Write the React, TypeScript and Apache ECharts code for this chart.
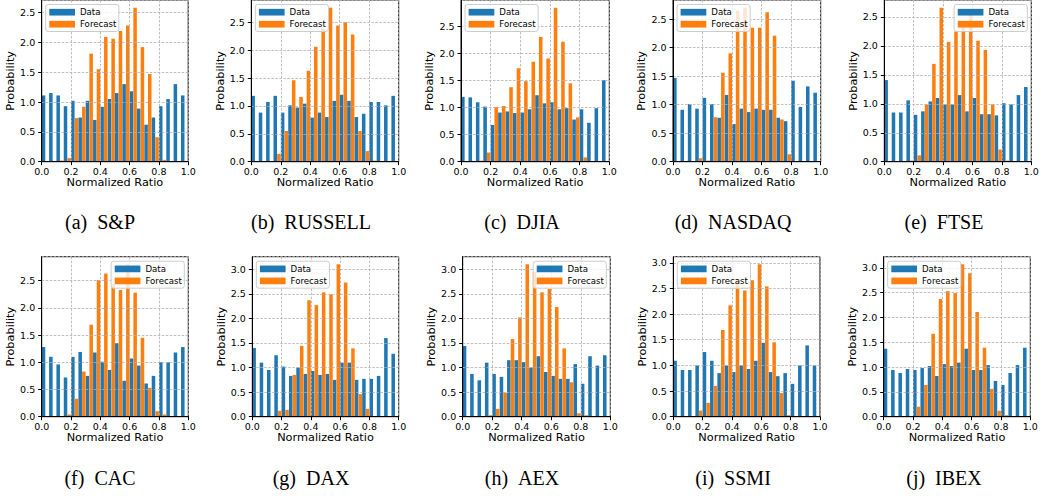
import React, { useEffect, useRef } from 'react';
import * as echarts from 'echarts';

const binStarts = [0.0, 0.05, 0.1, 0.15, 0.2, 0.25, 0.3, 0.35, 0.4, 0.45, 0.5, 0.55, 0.6, 0.65, 0.7, 0.75, 0.8, 0.85, 0.9, 0.95];
const xTicks = [0.0, 0.2, 0.4, 0.6, 0.8, 1.0];

const dataSP = [1.11, 1.15, 1.11, 0.93, 1.02, 0.74, 1.02, 0.70, 0.92, 1.05, 1.15, 1.30, 1.18, 0.89, 0.62, 0.74, 0.93, 1.05, 1.30, 1.11];
const forecastSP = [0, 0, 0.02, 0.06, 0.73, 0.92, 1.81, 1.55, 2.09, 2.06, 2.19, 2.28, 2.58, 1.92, 1.47, 0.41, 0.03, 0, 0, 0];

const dataRUSSELL = [1.18, 0.88, 1.07, 1.18, 0.88, 1.01, 0.97, 1.04, 0.79, 0.88, 0.80, 1.09, 1.20, 1.09, 0.80, 0.86, 1.07, 1.07, 1.01, 1.18];
const forecastRUSSELL = [0, 0, 0, 0.14, 0.55, 1.46, 1.16, 1.63, 2.06, 2.38, 2.76, 2.44, 2.50, 2.28, 0.55, 0.19, 0.02, 0, 0, 0];

const dataDJIA = [1.20, 1.19, 1.10, 1.02, 0.68, 0.91, 0.93, 0.90, 0.91, 0.97, 1.23, 1.08, 1.10, 0.97, 0.99, 0.78, 0.97, 0.72, 0.99, 1.51];
const forecastDJIA = [0, 0, 0.02, 0.17, 1.01, 1.03, 1.38, 1.73, 1.49, 1.85, 2.31, 1.91, 2.85, 2.22, 1.45, 0.82, 0.08, 0, 0, 0];

const dataNASDAQ = [1.47, 0.91, 1.01, 0.93, 1.12, 1.01, 0.77, 1.17, 0.66, 0.93, 0.87, 0.93, 0.91, 0.91, 0.77, 0.71, 1.42, 0.96, 1.32, 1.21];
const forecastNASDAQ = [0, 0, 0, 0.06, 0.02, 0.78, 1.56, 1.90, 2.65, 2.70, 2.35, 2.35, 2.62, 2.21, 0.74, 0.13, 0, 0, 0, 0];

const dataFTSE = [1.41, 0.85, 0.85, 1.06, 0.81, 0.87, 1.04, 1.10, 0.99, 0.99, 1.15, 0.87, 1.10, 0.82, 0.82, 0.80, 1.01, 0.99, 1.15, 1.29];
const forecastFTSE = [0, 0, 0, 0.02, 0.11, 0.99, 1.69, 2.66, 2.07, 2.25, 2.43, 2.54, 2.09, 1.93, 0.99, 0.21, 0.02, 0, 0, 0];

const dataCAC = [1.28, 1.10, 0.96, 0.72, 1.10, 1.19, 0.75, 1.18, 1.01, 0.86, 1.35, 0.66, 1.07, 0.94, 0.61, 0.75, 1.00, 1.00, 1.18, 1.28];
const forecastCAC = [0, 0, 0, 0.04, 0.33, 0.83, 1.69, 2.51, 2.63, 2.44, 2.33, 2.80, 2.28, 1.45, 0.53, 0.10, 0.04, 0, 0, 0];

const dataDAX = [1.40, 1.10, 0.95, 1.25, 1.02, 0.83, 1.00, 0.87, 0.93, 0.85, 0.87, 0.75, 1.10, 1.10, 0.75, 0.77, 0.77, 0.83, 1.60, 1.28];
const forecastDAX = [0, 0, 0, 0.12, 0.14, 0.85, 1.44, 2.37, 2.27, 2.53, 2.49, 3.10, 2.73, 1.39, 0.46, 0.16, 0, 0, 0, 0];

const dataAEX = [1.44, 0.87, 0.74, 1.10, 0.87, 0.81, 1.15, 1.15, 1.11, 1.00, 1.23, 0.91, 0.83, 0.77, 0.77, 1.07, 0.67, 1.23, 1.04, 1.25];
const forecastAEX = [0, 0, 0, 0.03, 0.16, 0.49, 1.58, 2.02, 3.10, 2.95, 2.53, 2.60, 2.23, 1.39, 0.70, 0.07, 0.03, 0, 0, 0];

const dataSSMI = [1.09, 0.91, 0.91, 1.00, 1.26, 1.09, 0.85, 1.00, 0.87, 1.00, 0.93, 1.09, 1.44, 0.87, 0.79, 0.85, 0.64, 1.00, 1.39, 1.00];
const forecastSSMI = [0, 0, 0, 0.12, 0.27, 0.60, 1.69, 2.17, 2.68, 2.46, 2.66, 2.97, 2.54, 1.45, 0.46, 0.03, 0, 0, 0, 0];

const dataIBEX = [1.37, 0.94, 0.88, 0.96, 0.94, 0.98, 1.02, 0.82, 1.06, 1.02, 1.09, 1.37, 0.94, 0.94, 1.04, 0.72, 0.64, 0.88, 1.04, 1.39];
const forecastIBEX = [0, 0, 0, 0, 0.20, 0.64, 1.67, 2.37, 2.53, 2.49, 3.07, 2.89, 2.11, 1.39, 0.56, 0.12, 0.03, 0, 0, 0];

const panelLetters = ['a', 'b', 'c', 'd', 'e', 'f', 'g', 'h', 'i', 'j'];
const panelNames = ['S&P', 'RUSSELL', 'DJIA', 'NASDAQ', 'FTSE', 'CAC', 'DAX', 'AEX', 'SSMI', 'IBEX'];
const panelData = [dataSP, dataRUSSELL, dataDJIA, dataNASDAQ, dataFTSE, dataCAC, dataDAX, dataAEX, dataSSMI, dataIBEX];
const panelForecast = [forecastSP, forecastRUSSELL, forecastDJIA, forecastNASDAQ, forecastFTSE, forecastCAC, forecastDAX, forecastAEX, forecastSSMI, forecastIBEX];

// layout (pixels)
const W = 1043;
const H = 500;
const plotLeft = [41.7, 251.3, 461, 673, 884.3, 41.7, 252.3, 462.7, 673.3, 883.7];
const plotRight = [188.2, 398.7, 609.3, 820.7, 1031.3, 188.3, 398.7, 610.3, 820, 1030.3];
const rowTop = [0, 256.7];
const rowHeight = [161.7, 160];
const legendSide = ['left', 'left', 'left', 'left', 'right', 'right', 'left', 'right', 'left', 'left'];
const captionX = [100, 311, 522, 733, 944];
const captionY = [222, 478];

const BLUE = '#1f77b4';
const ORANGE = '#ff7f0e';
const SANS = 'DejaVu Sans';

function renderBar(params: any, api: any) {
  const x0 = api.value(0);
  const x1 = api.value(1);
  const h = api.value(2);
  if (!h) return null;
  const p0 = api.coord([x0, h]);
  const p1 = api.coord([x1, 0]);
  return {
    type: 'rect',
    shape: { x: p0[0], y: p0[1], width: p1[0] - p0[0], height: p1[1] - p0[1] },
    style: { fill: api.visual('color') },
  };
}

function buildOption() {
  const grid: any[] = [];
  const xAxis: any[] = [];
  const yAxis: any[] = [];
  const series: any[] = [];
  const legend: any[] = [];
  const elements: any[] = [];

  for (let i = 0; i < 10; i++) {
    const row = Math.floor(i / 5);
    const col = i % 5;
    const top = rowTop[row];
    const height = rowHeight[row];
    grid.push({
      left: plotLeft[i],
      top,
      width: plotRight[i] - plotLeft[i],
      height,
      show: true,
      borderColor: '#000',
      borderWidth: 1,
      backgroundColor: 'transparent',
      z: 3,
    });
    xAxis.push({
      type: 'value',
      gridIndex: i,
      min: 0,
      max: 1,
      interval: 0.2,
      z: 3,
      name: 'Normalized Ratio',
      nameLocation: 'middle',
      nameGap: 15.5,
      nameTextStyle: { fontSize: 11.3, color: '#000', fontFamily: SANS },
      axisLine: { show: true, lineStyle: { color: '#000', width: 1 } },
      axisTick: { show: true, inside: false, length: 3.5, lineStyle: { color: '#000', width: 1 } },
      axisLabel: {
        show: true,
        margin: 4.5,
        fontSize: 9.5,
        color: '#000',
        fontFamily: SANS,
        formatter: (v: number) => (xTicks.some((t) => Math.abs(t - v) < 1e-6) ? v.toFixed(1) : ''),
      },
      splitLine: { show: true, lineStyle: { color: '#b0b0b0', type: [2.5, 1.5], width: 0.8 } },
    });
    const yMax = Math.max(...panelForecast[i], ...panelData[i]) * 1.05;
    yAxis.push({
      type: 'value',
      gridIndex: i,
      min: 0,
      max: yMax,
      interval: 0.5,
      z: 3,
      name: 'Probability',
      nameLocation: 'middle',
      nameGap: 24,
      nameTextStyle: { fontSize: 11.3, color: '#000', fontFamily: SANS },
      axisLine: { show: true, lineStyle: { color: '#000', width: 1 } },
      axisTick: { show: true, inside: false, length: 3.5, lineStyle: { color: '#000', width: 1 } },
      axisLabel: {
        show: true,
        margin: 6.5,
        fontSize: 9.5,
        color: '#000',
        fontFamily: SANS,
        showMaxLabel: false,
        formatter: (v: number) => v.toFixed(1),
      },
      splitLine: { show: true, lineStyle: { color: '#b0b0b0', type: [2.5, 1.5], width: 0.8 } },
    });
    series.push({
      type: 'custom',
      name: 'Data',
      xAxisIndex: i,
      yAxisIndex: i,
      z: 1,
      itemStyle: { color: BLUE },
      color: BLUE,
      renderItem: renderBar,
      encode: { x: [0, 1], y: 2 },
      data: binStarts.map((b, k) => [b + 0.0005, b + 0.0245, panelData[i][k]]),
    });
    series.push({
      type: 'custom',
      name: 'Forecast',
      xAxisIndex: i,
      yAxisIndex: i,
      z: 1,
      itemStyle: { color: ORANGE },
      color: ORANGE,
      renderItem: renderBar,
      encode: { x: [0, 1], y: 2 },
      data: binStarts.map((b, k) => [b + 0.0255, b + 0.0495, panelForecast[i][k]]),
    });
    const lg: any = {
      orient: 'vertical',
      top: top + 4.5,
      icon: 'rect',
      itemWidth: 25.7,
      itemHeight: 6.7,
      itemGap: 2,
      padding: [2.7, 2.5, 2.3, 3.6],
      backgroundColor: 'rgba(255,255,255,0.8)',
      borderColor: '#cccccc',
      borderWidth: 1,
      borderRadius: 2.5,
      selectedMode: false,
      z: 5,
      textStyle: { fontSize: 8.6, lineHeight: 10, color: '#000', fontFamily: SANS },
      data: [
        { name: 'Data', itemStyle: { color: BLUE } },
        { name: 'Forecast', itemStyle: { color: ORANGE } },
      ],
    };
    if (legendSide[i] === 'left') lg.left = plotLeft[i] + 4;
    else lg.right = W - plotRight[i] + 4;
    legend.push(lg);

    elements.push({
      type: 'text',
      x: captionX[col],
      y: captionY[row],
      style: {
        text: `(${panelLetters[i]})\u2002${panelNames[i]}`,
        fontSize: 20,
        fontFamily: 'Liberation Serif',
        fill: '#000',
        textAlign: 'center',
        textVerticalAlign: 'middle',
      },
    });
  }

  return {
    animation: false,
    backgroundColor: '#ffffff',
    grid,
    xAxis,
    yAxis,
    series,
    legend,
    graphic: { elements },
  };
}

export default function App() {
  const ref = useRef<HTMLDivElement>(null);
  useEffect(() => {
    document.body.style.margin = '0';
    if (!ref.current) return;
    const chart = echarts.init(ref.current, undefined, { renderer: 'svg' });
    chart.setOption(buildOption() as any);
    return () => {
      chart.dispose();
    };
  }, []);
  return <div ref={ref} style={{ width: W, height: H }} />;
}
